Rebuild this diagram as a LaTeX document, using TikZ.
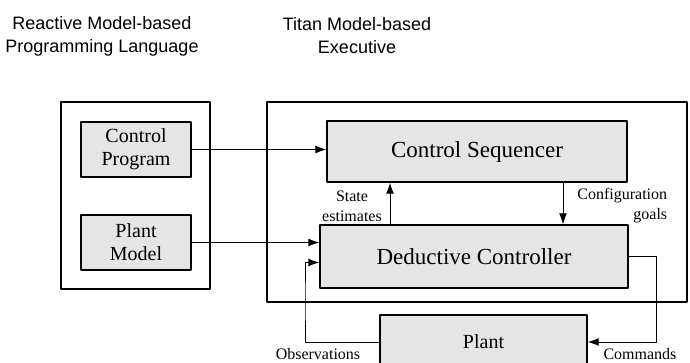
\documentclass[tikz,border=0pt]{standalone}
\usepackage{fontspec}
\setmainfont{Liberation Serif}
\newfontfamily\headfont{Liberation Sans}
\usetikzlibrary{arrows.meta}
\begin{document}
\begin{tikzpicture}[x=1pt,y=-1pt,line join=round,>={Latex[length=11pt,width=8pt]},line width=1pt]
			\tikzset{block/.style={draw,line width=1.4pt,fill=gray!20,inner sep=0pt,align=center,font=\fontsize{20}{23}\selectfont},
				frame/.style={draw,line width=1.2pt},
				head/.style={align=center,font=\headfont\fontsize{18}{23}\selectfont},
				lbl/.style={align=center,font=\fontsize{16}{20}\selectfont}}
			\useasboundingbox (0,0) rectangle (690,362);
			\clip (0,0) rectangle (690,362);
			\node[head] (lang) at (102,36) {Reactive Model-based\\Programming Language};
			\node[head] (exec) at (357,36) {Titan Model-based\\Executive};
			\draw[frame] (61,102) rectangle (210,289);
			\draw[frame] (267,102) rectangle (687,302);
			\node[block,minimum width=110pt,minimum height=55pt] (cp) at (136,149.5) {Control\\Program};
			\node[block,minimum width=110pt,minimum height=55pt] (pm) at (136,242.5) {Plant\\Model};
			\node[block,minimum width=300pt,minimum height=61pt,font=\fontsize{23}{26}\selectfont] (cs) at (477,151.5) {Control Sequencer};
			\node[block,minimum width=308pt,minimum height=63pt,font=\fontsize{23}{26}\selectfont] (dc) at (474,256.5) {Deductive Controller};
			\node[block,minimum width=207pt,minimum height=54pt] (plant) at (483.5,342) {Plant};
			\draw[->] (cp.east) -- (cs.west |- cp.east);
			\draw[->] (pm.east) -- (dc.west |- pm.east);
			\draw[->] (dc.north -| 390,0) -- (cs.south -| 390,0);
			\draw[->] (cs.south -| 563,0) -- (dc.north -| 563,0);
			\draw[->] (plant.west) -| (305,300) |- ([yshift=-6pt]dc.west);
			\draw[->] (dc.east) -| (656,300) |- (plant.east);
			\node[lbl] (se) at (352,206) {State\\estimates};
			\node[lbl,align=right,anchor=east] (cg) at (671,206) {Configuration\\goals};
			\node[lbl] (obs) at (318,354) {Observations};
			\node[lbl] (cmd) at (640,354) {Commands};
		\end{tikzpicture}
\end{document}
